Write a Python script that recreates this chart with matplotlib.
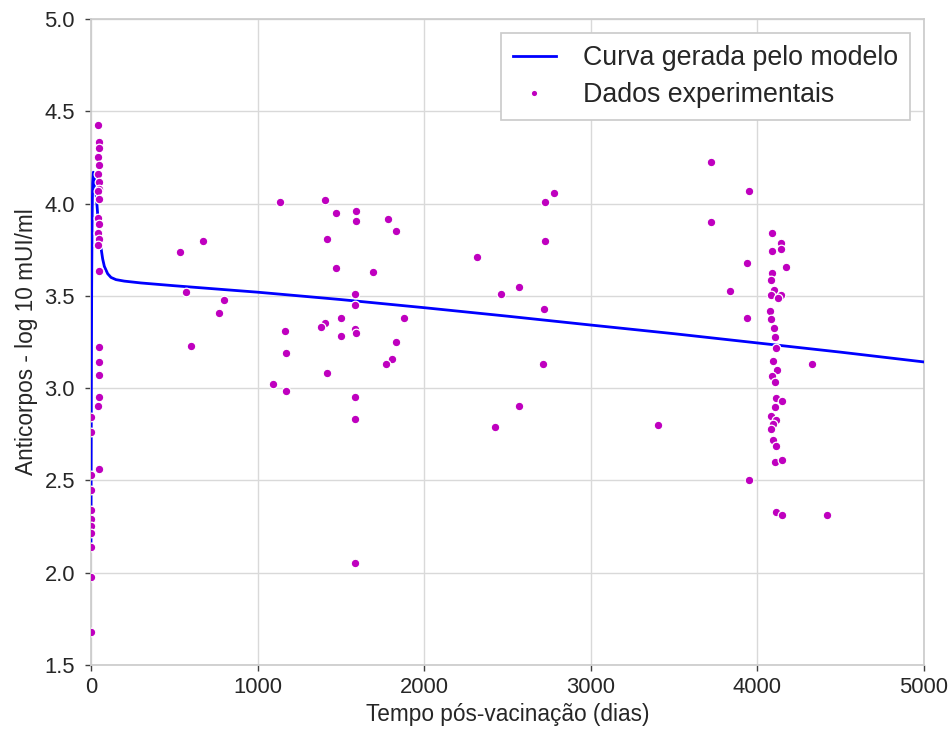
import numpy as np
import matplotlib
matplotlib.use("Agg")
import matplotlib.pyplot as plt

plt.rcParams['font.family'] = ['Liberation Sans', 'DejaVu Sans']

# model curve (days, log10 mUI/ml)
curve_t = [0, 2, 4, 6, 8, 10, 14, 18, 24, 30, 36, 42, 50, 60, 70, 80, 100,
           120, 150, 200, 300, 500, 1000, 1500, 2000, 2500, 3000, 3500,
           4000, 4500, 5000]
curve_y = [2.17, 3.00, 3.55, 3.85, 4.02, 4.11, 4.17, 4.16, 4.12, 4.06, 3.99,
           3.92, 3.84, 3.76, 3.70, 3.66, 3.62, 3.60, 3.588, 3.58, 3.57, 3.555,
           3.52, 3.48, 3.436, 3.39, 3.342, 3.295, 3.245, 3.195, 3.142]

# experimental data, day 0
t_day0 = [0] * 11
y_day0 = [2.842, 2.761, 2.531, 2.449, 2.342, 2.291, 2.251, 2.213, 2.140,
          1.978, 1.676]

# experimental data, ~6 weeks
t_early = [44, 46, 45, 44, 46, 44, 45, 47, 44, 45, 44, 46, 44, 45, 44, 45,
           46, 46, 45, 46, 44, 46]
y_early = [4.424, 4.334, 4.303, 4.253, 4.208, 4.162, 4.117, 4.081, 4.067,
           4.023, 3.924, 3.892, 3.843, 3.810, 3.774, 3.634, 3.223, 3.141,
           3.072, 2.951, 2.902, 2.562]

# experimental data, long term follow-up
t_late = [1136, 1404, 1470, 1588, 1590, 1780, 1832, 536, 674, 1414, 1472,
          1690, 572, 800, 766, 1584, 1584, 1500, 1880, 1404, 1380, 1162,
          1498, 1584, 1588, 1832, 1804, 1768, 598, 1170, 1416, 1090, 1170,
          1586, 1586, 1584,
          3720, 3950, 3722, 2778, 2728, 2728, 2318, 2572, 2460, 2722, 2714,
          2572, 2424, 3406, 3936, 3838, 3936, 4326, 3952,
          4090, 4144, 4142, 4090, 4170, 4090, 4084, 4100, 4080, 4142, 4126,
          4074, 4084, 4098, 4104, 4112, 4094, 4118, 4090, 4104, 4112, 4146,
          4106, 4082, 4114, 4092, 4084, 4096, 4112, 4108, 4146, 4114, 4146,
          4416]
y_late = [4.009, 4.018, 3.948, 3.959, 3.908, 3.919, 3.849, 3.739, 3.798,
          3.809, 3.650, 3.629, 3.519, 3.479, 3.409, 3.510, 3.449, 3.380,
          3.380, 3.351, 3.330, 3.310, 3.281, 3.321, 3.299, 3.250, 3.160,
          3.130, 3.231, 3.191, 3.081, 3.022, 2.982, 2.951, 2.832, 2.054,
          4.227, 4.069, 3.899, 4.058, 4.007, 3.798, 3.708, 3.549, 3.509,
          3.428, 3.130, 2.901, 2.791, 2.800, 3.679, 3.529, 3.379, 3.130,
          2.500,
          3.842, 3.784, 3.752, 3.743, 3.655, 3.624, 3.585, 3.534, 3.505,
          3.505, 3.486, 3.417, 3.376, 3.326, 3.275, 3.216, 3.147, 3.097,
          3.068, 3.036, 2.948, 2.928, 2.897, 2.849, 2.829, 2.806, 2.779,
          2.721, 2.689, 2.601, 2.611, 2.331, 2.311, 2.311]

t_data = np.array(t_day0 + t_early + t_late)
y_data = np.array(y_day0 + y_early + y_late)

fig = plt.figure(figsize=(9.51, 7.33), dpi=100)
ax = fig.add_axes([0.0957, 0.0928, 0.8759, 0.8812])

ax.grid(True, color='#d9d9d9', linewidth=1.0, zorder=0)
ax.set_axisbelow(True)

ax.plot(curve_t, curve_y, color='#0000ff', linewidth=2.0,
        label='Curva gerada pelo modelo', zorder=3)
ax.plot(t_data, y_data, 'o', color='#bf00bf', markersize=6.2,
        markeredgecolor='white', markeredgewidth=0.9,
        label='Dados experimentais', zorder=4)

ax.set_xlim(0, 5000)
ax.set_ylim(1.5, 5.0)
ax.set_xticks([0, 1000, 2000, 3000, 4000, 5000])
ax.set_yticks([1.5, 2.0, 2.5, 3.0, 3.5, 4.0, 4.5, 5.0])
ax.set_yticklabels(['1.5', '2.0', '2.5', '3.0', '3.5', '4.0', '4.5', '5.0'])

for s in ax.spines.values():
    s.set_color('#cccccc')
    s.set_linewidth(1.25)

ax.tick_params(direction='out', length=4.5, width=1, color='#404040',
               labelcolor='#262626', labelsize=15.8)
ax.tick_params(axis='x', pad=4.5)
ax.tick_params(axis='y', pad=7)

ax.set_xlabel('Tempo pós-vacinação (dias)', fontsize=16.3, color='#262626',
              labelpad=3)
ax.set_ylabel('Anticorpos - log 10 mUI/ml', fontsize=16.3, color='#262626',
              labelpad=5)

leg = ax.legend(loc='upper right', bbox_to_anchor=(0.983, 0.978),
                borderaxespad=0, fontsize=19.3, numpoints=1, markerscale=0.75,
                handlelength=1.6, handletextpad=1.0, labelspacing=0.4,
                fancybox=False, framealpha=1.0, borderpad=0.45)
leg.get_frame().set_edgecolor('#cccccc')
leg.get_frame().set_linewidth(1.25)
for txt in leg.get_texts():
    txt.set_color('#262626')

fig.savefig('out.png', dpi=100)
